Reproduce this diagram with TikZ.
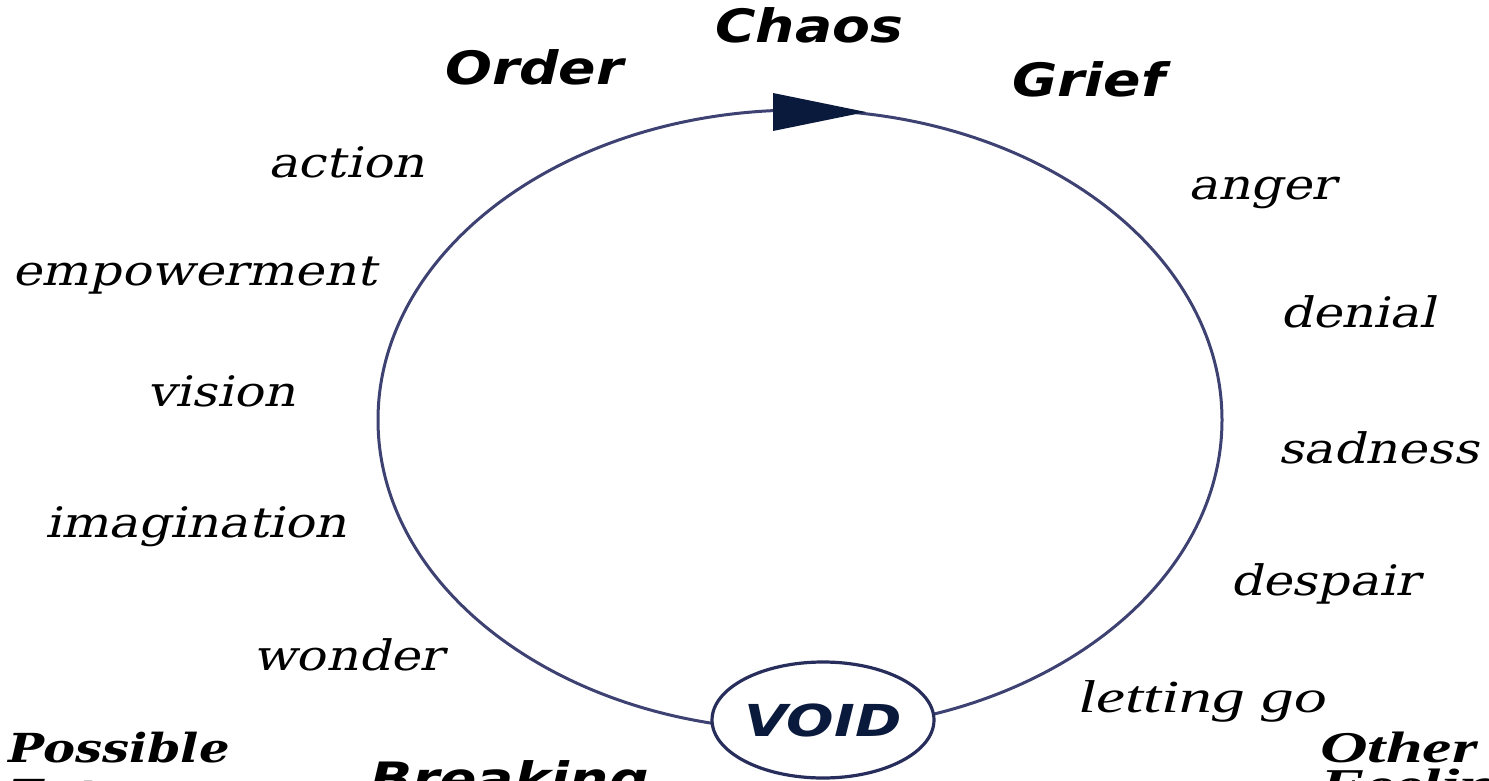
\documentclass[tikz,border=0pt]{standalone}
\usepackage{fontspec}
\usetikzlibrary{shapes.geometric}
\newfontfamily\sansbold{DejaVu Sans}
\newfontfamily\labfont{DejaVu Serif}[FakeSlant=0.2]
\newfontfamily\serifbi{DejaVu Serif}
\newfontfamily\timesit{Liberation Serif}
\definecolor{cyccol}{RGB}{62,66,114}
\definecolor{tipcol}{RGB}{10,26,60}
\definecolor{voidline}{RGB}{40,46,92}
\newcommand{\sx}[2]{\scalebox{#1}[1]{#2}}
\tikzset{
  lab/.style={anchor=base west, inner sep=0pt, font=\labfont\fontsize{42}{48}\selectfont},
  head/.style={anchor=base west, inner sep=0pt, font=\sansbold\bfseries\itshape\fontsize{46}{52}\selectfont},
  serifhead/.style={anchor=base west, inner sep=0pt, font=\serifbi\bfseries\itshape\fontsize{40}{46}\selectfont},
  timeshead/.style={anchor=base west, inner sep=0pt, font=\timesit\bfseries\itshape\fontsize{44}{50}\selectfont},
  cyc/.style={ellipse, draw=cyccol, line width=3pt, inner sep=0pt},
}
\begin{document}
\begin{tikzpicture}[x=1pt,y=-1pt]
\useasboundingbox (0,0) rectangle (1489,781);
\clip (0,0) rectangle (1489,781);
% main cycle
\node[cyc, minimum width=844pt, minimum height=620pt] (cycle) at (800,420) {};
% arrowhead
\fill[tipcol] (773,93) -- (866,112) -- (773,131) -- cycle;
% void
\node[ellipse, draw=voidline, line width=3.2pt, fill=white, minimum width=216pt, minimum height=116pt, inner sep=0pt,
      text=tipcol, font=\sansbold\bfseries\itshape\fontsize{44}{50}\selectfont] (void) at (823,720) {\sx{1.27}{VOID}};
% headings
\node[head] (chaos) at (715,43) {\sx{1.2}{Chaos}};
\node[head] (order) at (445,85) {\sx{1.2}{Order}};
\node[head] (grief) at (1012,97) {\sx{1.2}{Grief}};
\node[head] (breaking) at (370,795) {\sx{1.2}{Breaking}};
% left labels
\node[lab] (action) at (268,178) {\sx{1.19}{action}};
\node[lab] (empower) at (12,285) {\sx{1.19}{empowerment}};
\node[lab] (vision) at (147,406) {\sx{1.19}{vision}};
\node[lab] (imagin) at (45,537) {\sx{1.19}{imagination}};
\node[lab] (wonder) at (253,670) {\sx{1.19}{wonder}};
% right labels
\node[lab] (anger) at (1188,199) {\sx{1.19}{anger}};
\node[lab] (denial) at (1280,327) {\sx{1.19}{denial}};
\node[lab] (sadness) at (1278,463) {\sx{1.19}{sadness}};
\node[lab] (despair) at (1230,595) {\sx{1.19}{despair}};
\node[anchor=base west, inner sep=0pt, font=\timesit\itshape\fontsize{46}{52}\selectfont] (letting) at (1078,712) {\sx{1.42}{letting go}};
% bottom corner headings
\node[serifhead] (possible) at (8,762) {\sx{1.2}{Possible}};
\node[serifhead] (futures) at (8,808) {\sx{1.2}{Futures}};
\node[timeshead] (other) at (1320,762) {\sx{1.5}{Other}};
\node[timeshead] (feelings) at (1320,799) {\sx{1.5}{Feelings}};
\end{tikzpicture}
\end{document}
